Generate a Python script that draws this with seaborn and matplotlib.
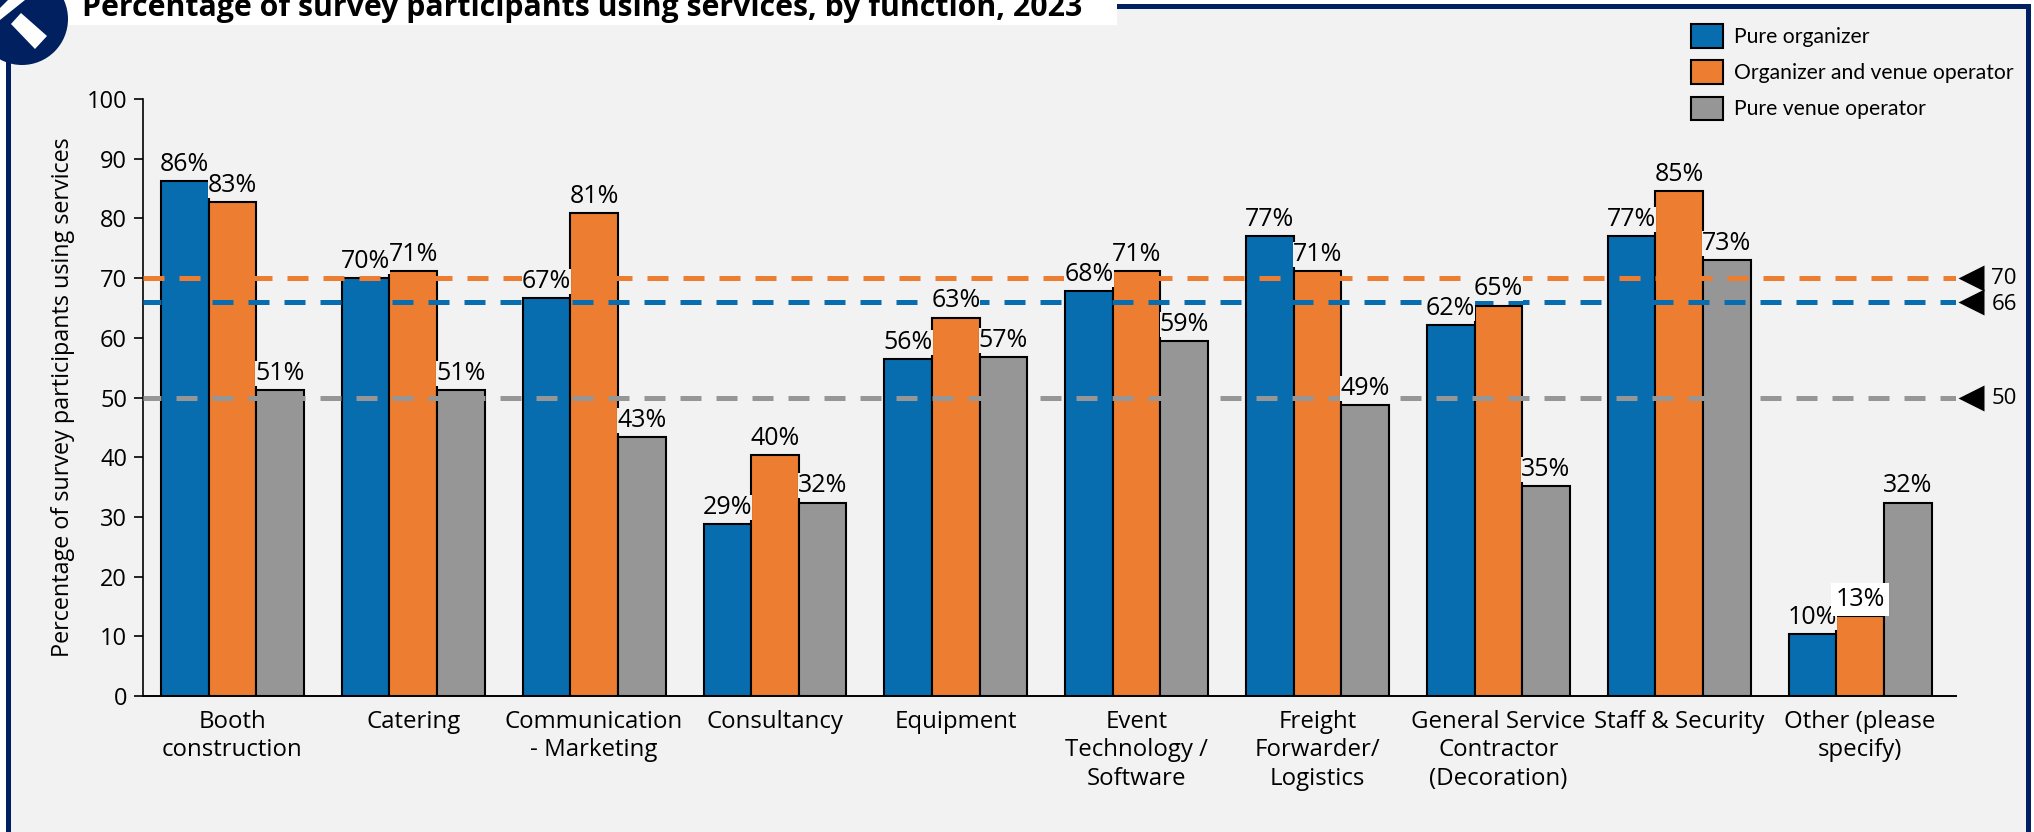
import pandas as pd
import seaborn as sns
import matplotlib.pyplot as plt
from matplotlib.patches import Rectangle, Circle, Polygon

categories = ["Booth\nconstruction", "Catering", "Communication\n- Marketing", "Consultancy", "Equipment",
              "Event\nTechnology /\nSoftware", "Freight\nForwarder/\nLogistics",
              "General Service\nContractor\n(Decoration)", "Staff & Security", "Other (please\nspecify)"]
pure_organizer = [86.2, 70.0, 66.7, 28.8, 56.4, 67.8, 77.1, 62.1, 77.1, 10.4]
organizer_venue = [82.8, 71.2, 80.9, 40.4, 63.4, 71.2, 71.2, 65.4, 84.6, 13.4]
pure_venue = [51.3, 51.3, 43.4, 32.4, 56.8, 59.4, 48.7, 35.2, 73.0, 32.4]
series_names = ["Pure organizer", "Organizer and venue operator", "Pure venue operator"]
averages = [66, 70, 50]
colors = ["#076DAF", "#ED7D31", "#969696"]
navy = "#002060"
bg = "#F2F2F2"
title = "Percentage of survey participants using services, by function, 2023"
ylabel = "Percentage of survey participants using services"

W, H = 2034, 832
plt.rcParams["font.family"] = "Open Sans"

df = pd.DataFrame({
    "function": categories * 3,
    "value": pure_organizer + organizer_venue + pure_venue,
    "type": [n for n in series_names for c in categories],
})

fig = plt.figure(figsize=(W / 100, H / 100), dpi=100, facecolor="white")

# page decoration, in pixel coordinates
page = fig.add_axes([0, 0, 1, 1], zorder=0)
page.set_xlim(0, W)
page.set_ylim(H, 0)
page.axis("off")
page.add_patch(Rectangle((8, 6), 2020, H, fc=bg, ec="none"))
page.add_patch(Rectangle((0, 0), 1117, 25, fc="white", ec="none"))
page.add_patch(Rectangle((6, 40), 5, H, fc=navy, ec="none"))
page.add_patch(Rectangle((1117, 4), 913, 5, fc=navy, ec="none"))
page.add_patch(Rectangle((2026, 4), 4.5, H, fc=navy, ec="none"))
page.add_patch(Circle((22, 19), 46, fc=navy, ec="none"))
page.add_patch(Polygon([(21, 13), (47, 36), (35, 49), (11, 24)], fc="white", ec="none"))
page.add_patch(Polygon([(8, 0), (25, 0), (0, 20), (0, 8)], fc="white", ec="none"))
page.text(82, 16, title, fontsize=21.8, fontweight="bold", color="black", va="baseline")

ax = fig.add_axes([143 / W, 1 - 696 / H, (1956 - 143) / W, (696 - 99) / H], zorder=1)
ax.patch.set_alpha(0)
sns.barplot(data=df, x="function", y="value", hue="type", hue_order=series_names, palette=colors,
            saturation=1, width=0.79, gap=0, edgecolor="black", linewidth=1.5, ax=ax)

ax.set_ylim(0, 100)
ax.set_yticks(range(0, 101, 10))
ax.set_xlabel("")
ax.set_ylabel(ylabel, fontsize=16.8, labelpad=8)
ax.tick_params(axis="y", length=6.5, width=1.2, labelsize=17, pad=5)
ax.tick_params(axis="x", length=0, labelsize=17.3, pad=10)
for t in ax.get_xticklabels():
    t.set_linespacing(1.25)
sns.despine(ax=ax)
ax.spines["left"].set_linewidth(1.2)
ax.spines["bottom"].set_linewidth(1.4)

# dashed averages with the markers on the right
offsets = [0.6, 0, 0.6]
label_y = [65.5, 70, 49.8]
for avg, c, off, ly in zip(averages, colors, offsets, label_y):
    ax.axhline(avg, color=c, lw=3.6, linestyle=(off, (4.2, 3)), dash_capstyle="butt", zorder=3)
    ax.plot([1.0085], [avg], marker="<", ms=19, color="black", mec="none", ls="none",
            transform=ax.get_yaxis_transform(), clip_on=False, zorder=5)
    ax.text(1.0195, ly, str(avg), fontsize=16, va="center",
            transform=ax.get_yaxis_transform(), clip_on=False)
ax.set_xlim(-0.494, 9.53)

for cont in ax.containers:
    labels = ax.bar_label(cont, fmt="%.0f%%", fontsize=18, padding=3, zorder=4,
                          bbox=dict(fc=bg, ec="none", pad=0))
    for lab in labels:
        if lab.get_text() == "13%":
            lab.set_bbox(dict(fc="white", ec="none", pad=3))

leg = ax.legend(loc="upper left", bbox_to_anchor=(1685 / W, 1 - 17.5 / H), bbox_transform=fig.transFigure,
                frameon=False, prop={"family": "Lato", "size": 15.2}, handlelength=1.5, handleheight=1.35,
                labelspacing=0.6, handletextpad=0.5, borderpad=0.3, borderaxespad=0)

fig.savefig("out.png", dpi=100, facecolor="white")
